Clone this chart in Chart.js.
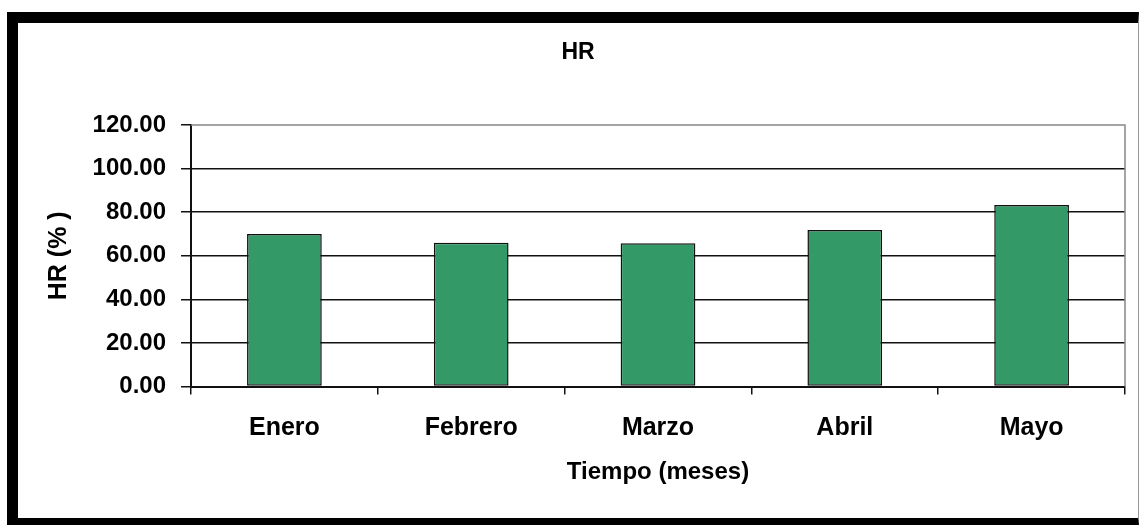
<!DOCTYPE html>
<html>
<head>
<meta charset="utf-8">
<script src="https://cdn.jsdelivr.net/npm/chart.js@4"></script>
<style>
  html, body { margin: 0; padding: 0; background: #fff; width: 1141px; height: 525px; overflow: hidden; }
  #frame { position: absolute; left: 7px; top: 12px; width: 1120px; height: 495px;
           border-left: 11px solid #000; border-top: 11px solid #000; border-bottom: 7px solid #000;
           border-right: 1px solid #999; background: #fff; }
  canvas { display: block; }
</style>
</head>
<body>
<div id="frame"><canvas id="c" width="1120" height="495"></canvas></div>
<script>
const categories = ["Enero", "Febrero", "Marzo", "Abril", "Mayo"];
const hrValues = [70.0, 66.0, 65.7, 71.8, 83.3];
const yMin = 0, yMax = 120, yStep = 20;
const chartTitle = "HR";
const xTitle = "Tiempo (meses)";
const yTitle = "HR (% )";

const FONT = "'Liberation Sans', Arial, sans-serif";

const frameLines = {
  id: 'frameLines',
  beforeDatasetsDraw(chart) {
    const a = chart.chartArea, ctx = chart.ctx;
    ctx.save();
    ctx.strokeStyle = '#888';
    ctx.lineWidth = 1.5;
    ctx.beginPath();
    ctx.moveTo(a.left, a.top);
    ctx.lineTo(a.right, a.top);
    ctx.lineTo(a.right, a.bottom);
    ctx.stroke();
    ctx.restore();
  }
};

new Chart(document.getElementById('c'), {
  type: 'bar',
  data: {
    labels: categories,
    datasets: [{
      label: chartTitle,
      data: hrValues,
      backgroundColor: '#339966',
      borderColor: '#111',
      borderWidth: 1.5,
      borderSkipped: false,
      barPercentage: 0.8,
      categoryPercentage: 0.5
    }]
  },
  options: {
    responsive: false,
    devicePixelRatio: 1,
    animation: false,
    layout: { padding: { left: 13, right: 13, top: 0, bottom: 0 } },
    plugins: {
      legend: { display: false },
      tooltip: { enabled: false },
      title: {
        display: true,
        text: chartTitle,
        color: '#000',
        font: { family: FONT, size: 23, weight: 'bold', lineHeight: 1.2 },
        padding: { top: 16, bottom: 58.4 }
      }
    },
    scales: {
      x: {
        afterFit: s => { s.height = 131.5; },
        grid: { offset: true, drawOnChartArea: false, drawTicks: true, tickLength: 8, color: '#111', lineWidth: 1.5 },
        border: { display: true, color: '#111', width: 2 },
        ticks: { color: '#000', padding: 19, font: { family: FONT, size: 25, weight: 'bold' } },
        title: { display: true, text: xTitle, color: '#000', padding: { top: 0, bottom: 31 },
                 font: { family: FONT, size: 24, weight: 'bold', lineHeight: 1.2 } }
      },
      y: {
        min: yMin, max: yMax,
        afterFit: s => { s.width = 160; },
        grid: { color: c => (c.tick && c.tick.value === yMax) ? 'rgba(0,0,0,0)' : '#111',
                tickColor: '#111', lineWidth: 1.5, tickLength: 10 },
        border: { display: true, color: '#111', width: 2 },
        ticks: { stepSize: yStep, color: '#000', padding: 15,
                 font: { family: FONT, size: 24, weight: 'bold' },
                 callback: v => Number(v).toFixed(2) },
        title: { display: true, text: yTitle, color: '#000', padding: { top: 13, bottom: 0 },
                 font: { family: FONT, size: 25, weight: 'bold', lineHeight: 1.2 } }
      }
    }
  },
  plugins: [frameLines]
});
</script>
</body>
</html>
